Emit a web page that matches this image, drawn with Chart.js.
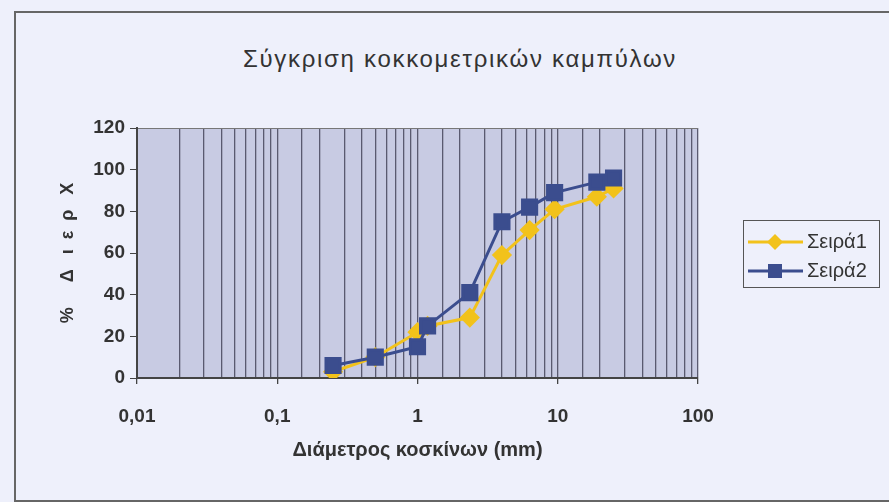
<!DOCTYPE html>
<html>
<head>
<meta charset="utf-8">
<script src="https://cdn.jsdelivr.net/npm/chart.js@4/dist/chart.umd.min.js"></script>
<style>
  html, body { margin: 0; padding: 0; background: #eef0fb; }
  #wrap { position: relative; width: 889px; height: 502px; overflow: hidden; font-family: "Liberation Sans", Arial, sans-serif; }
  #frame { position: absolute; left: 14px; top: 11px; width: 900px; height: 487px; border: 2px solid #666; border-right: none; }
  #title { position: absolute; left: 0; width: 920px; top: 45px; text-align: center; font-size: 24px; color: #333; letter-spacing: 1.7px; }
  #legend { position: absolute; left: 743px; top: 220px; width: 137px; height: 68px; border: 1.5px solid #555; box-sizing: border-box; padding-top: 6px; }
  .row { display: flex; align-items: center; height: 29px; font-size: 20px; color: #333; }
  .row svg { margin-left: 4px; margin-right: 4px; }
  canvas { position: absolute; left: 0; top: 0; }
</style>
</head>
<body>
<div id="wrap">
  <div id="frame"></div>
  <div id="title">Σύγκριση κοκκομετρικών καμπύλων</div>
  <canvas id="grainChart" width="889" height="502"></canvas>
  <div id="legend"></div>
</div>
<script>
// sieve openings (mm) and % passing
const sieves = [0.25, 0.5, 1, 1.18, 2.36, 4, 6.3, 9.5, 19, 25];
const seira1 = [3, 10, 22, 25, 29, 59, 71, 81, 87, 91];
const seira2 = [6, 10, 15, 25, 41, 75, 82, 89, 94, 96];
const seriesNames = ['Σειρά1', 'Σειρά2'];
const yTicks = [0, 20, 40, 60, 80, 100, 120];

const colors = ['#f2c21b', '#3b4d8e'];
const styles = ['rectRot', 'rect'];
const radii = [8, 10];

const isDecade = v => Math.abs(Math.log10(v) - Math.round(Math.log10(v))) < 1e-6;

const plotBg = {
    id: 'plotBg',
    beforeDraw(chart) {
        const a = chart.chartArea, c = chart.ctx;
        c.save();
        c.fillStyle = '#c8cbe3';
        c.fillRect(a.left, a.top, a.right - a.left, a.bottom - a.top);
        c.restore();
    }
};

const tickFont = { family: 'Liberation Sans', size: 19, weight: 'bold' };

const ctx = document.getElementById('grainChart');
const chart = new Chart(ctx.getContext('2d'), {
    type: 'scatter',
    data: {
        datasets: [seira1, seira2].map((vals, i) => ({
            label: seriesNames[i],
            data: sieves.map((s, j) => ({ x: s, y: vals[j] })),
            showLine: true,
            order: 1 - i, // Σειρά2 drawn on top
            borderColor: colors[i],
            backgroundColor: colors[i],
            borderWidth: 3,
            pointStyle: styles[i],
            pointRadius: radii[i],
            pointHoverRadius: radii[i]
        }))
    },
    options: {
        responsive: false,
        animation: false,
        layout: { padding: { left: 0, top: 128, right: 191, bottom: 0 } },
        plugins: { legend: { display: false }, tooltip: { enabled: false } },
        scales: {
            x: {
                type: 'logarithmic',
                min: 0.01,
                max: 100,
                afterFit: s => { s.height = 124; },
                border: { color: '#444', width: 2 },
                grid: {
                    color: '#5a5a70',
                    lineWidth: 1.3,
                    tickLength: 6,
                    tickColor: c => (c.tick && isDecade(c.tick.value)) ? '#444' : 'rgba(0,0,0,0)'
                },
                ticks: {
                    autoSkip: false,
                    maxRotation: 0,
                    padding: 21,
                    color: '#333',
                    font: tickFont,
                    callback: v => {
                        if (!isDecade(v)) return '';
                        const e = Math.round(Math.log10(v));
                        return e < 0 ? '0,' + '0'.repeat(-e - 1) + '1' : String(Math.pow(10, e));
                    }
                },
                title: {
                    display: true,
                    text: 'Διάμετρος κοσκίνων (mm)',
                    color: '#333',
                    font: { family: 'Liberation Sans', size: 20, weight: 'bold' },
                    padding: { bottom: 40 }
                }
            },
            y: {
                min: 0,
                max: 120,
                afterFit: s => { s.width = 137; },
                afterBuildTicks: s => { s.ticks = yTicks.map(v => ({ value: v })); },
                border: { color: '#444', width: 2 },
                grid: {
                    color: c => (c.tick && c.tick.value === 120) ? '#777' : 'rgba(0,0,0,0)',
                    tickLength: 7,
                    tickColor: '#444'
                },
                ticks: {
                    padding: 5,
                    color: '#333',
                    font: tickFont
                },
                title: {
                    display: true,
                    text: '%     Δ   ι  ε  ρ   Χ',
                    color: '#333',
                    font: { family: 'Liberation Sans', size: 18, weight: 'bold' },
                    padding: { top: 57 }
                }
            }
        }
    },
    plugins: [plotBg]
});

// legend built from the datasets
const legend = document.getElementById('legend');
chart.data.datasets.forEach((d, i) => {
    const mark = styles[i] === 'rect'
        ? '<rect x="20" y="3" width="14" height="14" fill="' + colors[i] + '"/>'
        : '<polygon points="27,2 35,10 27,18 19,10" fill="' + colors[i] + '"/>';
    legend.insertAdjacentHTML('beforeend',
        '<div class="row"><svg width="55" height="20"><line x1="0" y1="10" x2="55" y2="10" stroke="' +
        colors[i] + '" stroke-width="3"/>' + mark + '</svg>' + d.label + '</div>');
});
</script>
</body>
</html>
